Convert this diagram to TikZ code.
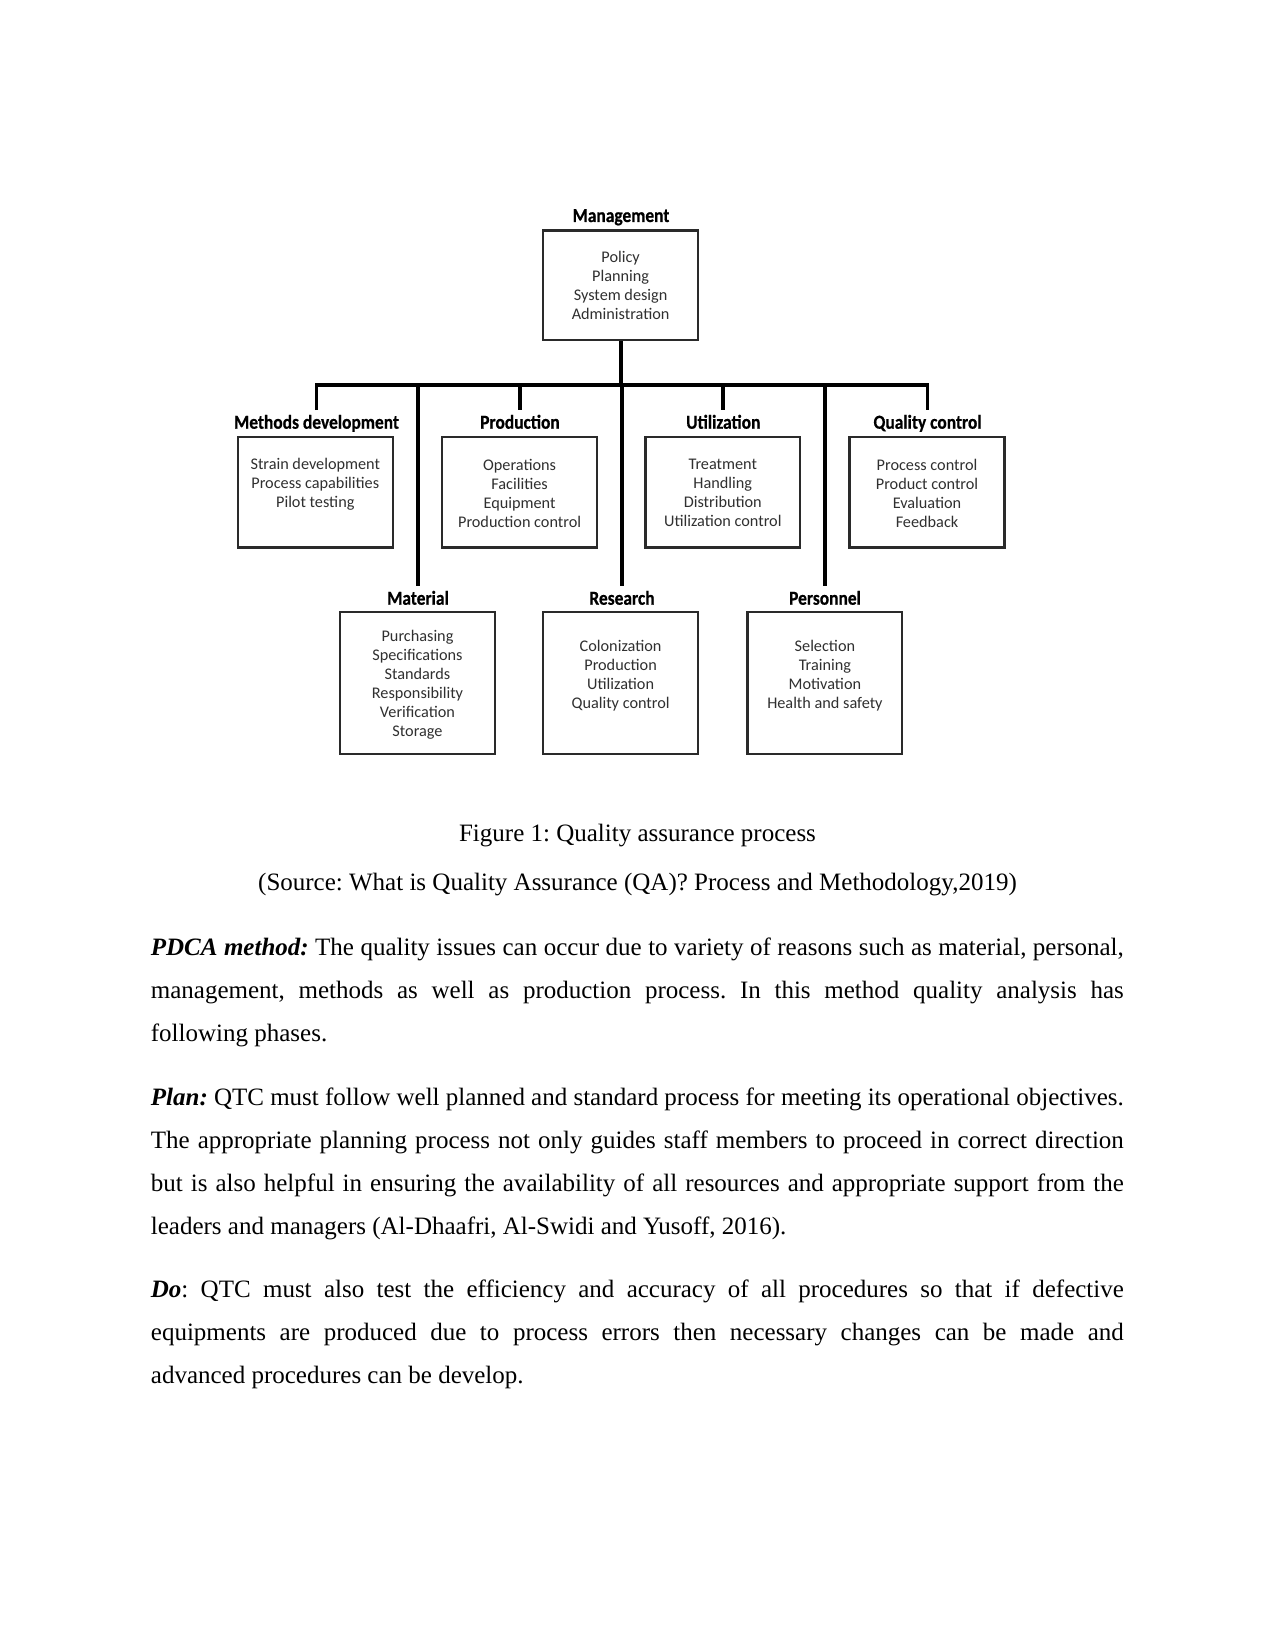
\documentclass[tikz,border=0pt]{standalone}
\usepackage{fontspec}
\setmainfont{Liberation Serif}
\newfontfamily\boxfont{Carlito}
\newfontfamily\labfont[FakeStretch=0.88,FakeBold=0.6]{Carlito}
\definecolor{boxgray}{HTML}{2A2A2A}
\definecolor{txtgray}{HTML}{303030}
\tikzset{
  box/.style={draw=boxgray, line width=1.1pt, minimum width=74.3pt, inner sep=0pt},
  boxtext/.style={align=center, text=txtgray, inner sep=0pt, font=\boxfont\fontsize{7.8}{9.1}\selectfont},
  lab/.style={anchor=base, inner sep=2pt, font=\labfont\bfseries\fontsize{9.5}{11}\selectfont},
  conn/.style={line width=1.9pt, black, line join=miter},
  bodyline/.style={anchor=base west, inner sep=0pt, font=\fontsize{12}{14}\selectfont},
  capline/.style={anchor=base, inner sep=0pt, font=\fontsize{12}{14}\selectfont}
}
\frenchspacing
\begin{document}
\frenchspacing
\begin{tikzpicture}[x=0.48pt, y=-0.48pt]
\useasboundingbox (0,0) rectangle (1275,1651);
\fill[white] (0,0) rectangle (1275,1651);

% ---------- top box ----------
\node[box, minimum height=52.6pt] (mg) at (620.6,285.4) {};
\node[boxtext] (mgT) at (620.6,285.5) {Policy\\Planning\\System design\\Administration};
\node[lab] (mgL) at (621,222) {Management};

% ---------- row 1 ----------
\node[box, minimum height=53.1pt] (md) at (315.3,492.2) {};
\node[boxtext] (mdT) at (315.3,484.5) {Strain development\\Process capabilities\\Pilot testing};
\node[lab] (mdL) at (316.5,428.7) {Methods development};

\node[box, minimum height=53.1pt] (pr) at (519.6,492.2) {};
\node[boxtext] (prT) at (519.6,493) {Operations\\Facilities\\Equipment\\Production control};
\node[lab] (prL) at (520,428.7) {Production};

\node[box, minimum height=53.1pt] (ut) at (722.8,492.2) {};
\node[boxtext] (utT) at (722.8,493) {Treatment\\Handling\\Distribution\\Utilization control};
\node[lab] (utL) at (723.3,428.7) {Utilization};

\node[box, minimum height=53.1pt] (qc) at (927.0,492.2) {};
\node[boxtext] (qcT) at (927.0,493) {Process control\\Product control\\Evaluation\\Feedback};
\node[lab] (qcL) at (927.5,428.7) {Quality control};

% ---------- row 2 ----------
\node[box, minimum height=68.2pt] (ma) at (417.5,682.8) {};
\node[boxtext] (maT) at (417.5,684.8) {Purchasing\\Specifications\\Standards\\Responsibility\\Verification\\Storage};
\node[lab] (maL) at (418,604.7) {Material};

\node[box, minimum height=68.2pt] (re) at (620.6,682.8) {};
\node[boxtext] (reT) at (620.6,675.5) {Colonization\\Production\\Utilization\\Quality control};
\node[lab] (reL) at (622,604.7) {Research};

\node[box, minimum height=68.2pt] (pe) at (824.9,682.8) {};
\node[boxtext] (peT) at (824.9,675.5) {Selection\\Training\\Motivation\\Health and safety};
\node[lab] (peL) at (825,604.7) {Personnel};

% ---------- connectors ----------
\coordinate (bus) at (620.6,385);
\draw[conn] (mg.south) -- (bus);
\draw[conn] (mdL.north) -- (mdL.north |- bus) -- (qcL.north |- bus) -- (qcL.north);
\draw[conn] (prL.north |- bus) -- (prL.north);
\draw[conn] (utL.north |- bus) -- (utL.north);
\draw[conn] (maL.north |- bus) -- (maL.north);
\draw[conn] (reL.north |- bus) -- (reL.north);
\draw[conn] (peL.north |- bus) -- (peL.north);

% ---------- caption ----------
\node[capline] (cap1) at (637.5,841.7) {Figure 1: Quality assurance process};
\node[capline] (cap2) at (637.5,890) {(Source: What is Quality Assurance (QA)? Process and Methodology,2019)};

% ---------- body ----------
\node[bodyline] (a1) at (150.5,955) {\makebox[467pt][s]{\textbf{\textit{PDCA method:}} The quality issues can occur due to variety of reasons such as material, personal,}};
\node[bodyline] (a2) at (150.5,998.2) {\makebox[467pt][s]{management, methods as well as production process. In this method quality analysis has}};
\node[bodyline] (a3) at (150.5,1041.4) {following phases.};

\node[bodyline] (b1) at (150.5,1105) {\makebox[467pt][s]{\textbf{\textit{Plan:}} QTC must follow well planned and standard process for meeting its operational objectives.}};
\node[bodyline] (b2) at (150.5,1148.2) {\makebox[467pt][s]{The appropriate planning process not only guides staff members to proceed in correct direction}};
\node[bodyline] (b3) at (150.5,1191.4) {\makebox[467pt][s]{but is also helpful in ensuring the availability of all resources and appropriate support from the}};
\node[bodyline] (b4) at (150.5,1234.6) {leaders and managers (Al-Dhaafri, Al-Swidi and Yusoff, 2016).};

\node[bodyline] (c1) at (150.5,1297.5) {\makebox[467pt][s]{\textbf{\textit{Do}}: QTC must also test the efficiency and accuracy of all procedures so that if defective}};
\node[bodyline] (c2) at (150.5,1340.7) {\makebox[467pt][s]{equipments are produced due to process errors then necessary changes can be made and}};
\node[bodyline] (c3) at (150.5,1383.9) {advanced procedures can be develop.};
\end{tikzpicture}
\end{document}
